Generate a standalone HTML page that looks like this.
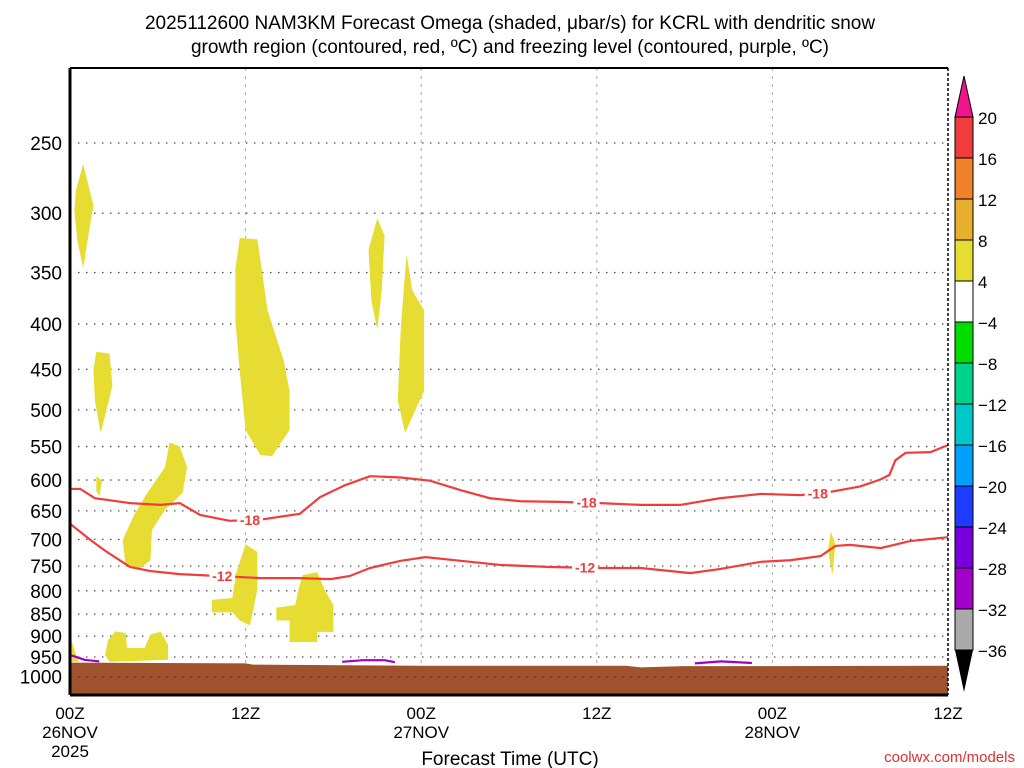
<!DOCTYPE html>
<html><head><meta charset="utf-8"><style>
body{margin:0;background:#fff;width:1024px;height:768px;overflow:hidden}
svg{display:block;font-family:"Liberation Sans",sans-serif}
</style></head><body>
<svg id="chart" width="1024" height="768" xmlns="http://www.w3.org/2000/svg">
<text x="510" y="29" text-anchor="middle" font-size="19">2025112600 NAM3KM Forecast Omega (shaded, μbar/s) for KCRL with dendritic snow</text>
<text x="510" y="53" text-anchor="middle" font-size="19">growth region (contoured, red, ºC) and freezing level (contoured, purple, ºC)</text>
<g id="grid"></g><g id="marks"></g><g id="axes"></g><g id="cbar"></g>
<text x="510" y="765" text-anchor="middle" font-size="19">Forecast Time (UTC)</text>
<text x="1015" y="762" text-anchor="end" font-size="15" fill="#e03030">coolwx.com/models</text>
</svg>
<script>
const pTicks=[250,300,350,400,450,500,550,600,650,700,750,800,850,900,950,1000];
const hourTicks=[0,12,24,36,48,60];
const hourLabels=[["00Z","26NOV","2025"],["12Z"],["00Z","27NOV"],["12Z"],["00Z","28NOV"],["12Z"]];
const minus18Hours=[0,0.7,1.7,4.1,6.2,7.5,8.9,10.9,13.0,15.7,17.1,18.8,20.5,22.6,24.6,26.7,28.7,30.8,33.5,36.2,39.0,41.7,44.4,47.2,49.9,51.9,54.0,55.4,56.0,56.4,57.1,58.8,60];
const minus18Press=[614,614,629,637,640,637,657,667,665,655,627,608,594,596,601,616,629,634,635,637,640,640,629,622,624,619,610,599,592,570,559,558,548];
const minus12Hours=[0,1.4,2.4,4.1,5.5,7.5,10.3,13.0,15.7,17.8,19.1,20.5,22.6,24.3,26.7,29.4,32.8,36.2,39.0,42.4,44.4,47.2,49.2,51.3,52.3,53.3,55.4,57.4,60];
const minus12Press=[672,701,721,752,760,766,770,774,774,776,770,754,740,733,740,748,752,754,754,764,756,742,739,731,712,710,716,703,696];
const surfHours=[0,12,12.5,24,38,39,42,60];
const surfPress=[964,966,969,972,972,976,973,972];
const omegaBlobs=[
 [[0.4,283],[0.9,264],[1.6,294],[1.2,322],[0.9,346],[0.5,322],[0.3,298]],
 [[1.8,430],[2.7,432],[2.9,469],[2.5,500],[2.1,531],[1.7,488],[1.6,451]],
 [[1.8,594],[2.2,601],[2.0,626],[1.8,618]],
 [[6.8,544],[7.5,550],[8.0,580],[7.7,620],[6.5,648],[5.6,683],[5.5,739],[4.8,754],[3.8,748],[3.6,701],[4.4,656],[5.3,620],[6.5,580]],
 [[11.6,320],[12.8,321],[13.1,347],[13.5,386],[14.6,440],[15.0,476],[15.0,527],[13.8,564],[13.0,562],[12.0,527],[11.6,452],[11.3,396],[11.3,347]],
 [[21.0,304],[21.5,318],[21.3,367],[21.0,406],[20.6,377],[20.4,330]],
 [[23.0,334],[23.4,367],[24.2,386],[24.2,476],[23.6,500],[22.9,531],[22.4,488],[22.6,406],[22.8,367]],
 [[12.0,709],[12.8,723],[12.8,798],[12.3,875],[11.6,864],[11.1,846],[9.7,846],[9.7,819],[11.1,815],[11.3,768]],
 [[15.9,768],[16.9,762],[17.4,798],[18.0,830],[18.0,890],[16.9,890],[16.9,914],[15.0,914],[15.0,864],[14.1,864],[14.1,836],[15.4,830],[15.6,798]],
 [[3.1,889],[3.8,893],[3.9,928],[5.1,928],[5.5,896],[6.2,890],[6.7,921],[6.7,957],[2.7,962],[2.4,945],[2.6,909]],
 [[0,900],[0.3,933],[0.6,962],[0,962]],
 [[52.0,686],[52.3,709],[52.1,768],[51.8,719]]
];
const freezeSegs=[
 [[0,945],[1,957],[2,961]],
 [[18.6,962],[20,958],[21.5,958],[22.2,963]],
 [[42.7,966],[44.5,961],[46.6,965]]
];
const cbarLevels=[20,16,12,8,4,-4,-8,-12,-16,-20,-24,-28,-32,-36];
const cbarColors=["#f03c3c","#f0822a","#e6af2d","#e6dc32","#ffffff","#00dc00","#00d28c","#00c8c8","#00a0ff","#1e3cff","#7800dc","#a000c8","#aaaaaa"];

const X0=70,X1=948,Y0=68,Y1=695;
const xs=h=>X0+(X1-X0)*h/60;
const ys=p=>143+385*Math.log(p/250);
const NS="http://www.w3.org/2000/svg";
function mk(tag,parent,attrs){const e=document.createElementNS(NS,tag);for(const k in attrs)e.setAttribute(k,attrs[k]);parent.appendChild(e);return e;}
const grid=document.getElementById('grid'),marks=document.getElementById('marks'),axes=document.getElementById('axes'),cb=document.getElementById('cbar');

pTicks.forEach(p=>{const y=ys(p);
 const l=mk('line',grid,{x1:X0,x2:X1,y1:y,y2:y,stroke:'#555','stroke-width':1.3,'stroke-dasharray':'1.5 6.5'});
 
 
 const t=mk('text',axes,{x:X0-8,y:y+7,'text-anchor':'end','font-size':19});t.textContent=p;
 
 
});
hourTicks.forEach((h,i)=>{const x=xs(h);
 if(i>0&&i<hourTicks.length-1){const l=mk('line',grid,{x1:x,x2:x,y1:Y0,y2:Y1,stroke:'#aaa','stroke-width':1,'stroke-dasharray':'3 5'});
 
 }
 hourLabels[i].forEach((s,j)=>{const t=mk('text',axes,{x:x,y:719+j*19,'text-anchor':'middle','font-size':17});t.textContent=s;
 
 });
});

omegaBlobs.forEach(b=>{const pg=mk('polygon',marks,{points:b.map(d=>xs(d[0])+','+ys(d[1])).join(' '),fill:'#e6dc32'});
 
 });

// ground
let gd='M'+xs(surfHours[0])+','+ys(surfPress[0]);
surfHours.forEach((h,i)=>{gd+=' L'+xs(h)+','+ys(surfPress[i]);});
gd+=' L'+X1+','+Y1+' L'+X0+','+Y1+' Z';
const g=mk('path',marks,{d:gd,fill:'#a0522d'});


pTicks.filter(p=>p>=950).forEach(p=>{const y=ys(p);if(p===1000){const l=mk('line',marks,{x1:X0,x2:X1,y1:y,y2:y,stroke:'#333','stroke-width':1.3,'stroke-dasharray':'1.5 6.5'});
 
 }});

function line(hs,ps,color,name){const d=hs.map((h,i)=>(i?'L':'M')+xs(h)+','+ys(ps[i])).join(' ');
 const e=mk('path',marks,{d:d,fill:'none',stroke:color,'stroke-width':2.2});
 
 }
line(minus18Hours,minus18Press,'#f03c3c','contour-minus18');
line(minus12Hours,minus12Press,'#f03c3c','contour-minus12');
freezeSegs.forEach(s=>line(s.map(d=>d[0]),s.map(d=>d[1]),'#a000c8','freezing-level'));

function clabel(h,hsArr,psArr,txt){let i=0;while(i<hsArr.length-2&&hsArr[i+1]<h)i++;
 const f=(h-hsArr[i])/(hsArr[i+1]-hsArr[i]);const p=psArr[i]+f*(psArr[i+1]-psArr[i]);
 const x=xs(h),y=ys(p);
 const r=mk('rect',marks,{x:x-13,y:y-8,width:26,height:16,fill:'#fff'});
 
 
 const t=mk('text',marks,{x:x,y:y+5,'text-anchor':'middle','font-size':14,'font-weight':'bold',fill:'#f03c3c'});t.textContent=txt;
 
 }
clabel(12.3,minus18Hours,minus18Press,'-18');
clabel(35.3,minus18Hours,minus18Press,'-18');
clabel(51.1,minus18Hours,minus18Press,'-18');
clabel(10.4,minus12Hours,minus12Press,'-12');
clabel(35.2,minus12Hours,minus12Press,'-12');

// frame
[[X0,Y0,X1,Y0,'#000',2,''],[X0,Y0,X0,Y1,'#000',3,''],[X0,Y1,X1,Y1,'#000',3,''],[X1,Y0,X1,Y1,'#000',1.5,'3 2']].forEach(a=>{
 const l=mk('line',axes,{x1:a[0],y1:a[1],x2:a[2],y2:a[3],stroke:a[4],'stroke-width':a[5]});if(a[6])l.setAttribute('stroke-dasharray',a[6]);
 
 });

// colorbar
const CX=955,CW=18,CT=117,CS=41;
const tt=mk('polygon',cb,{points:`${CX},${CT} ${CX+CW},${CT} ${CX+CW/2},${CT-41}`,fill:'#f0148c',stroke:'#000','stroke-width':1});


cbarColors.forEach((c,i)=>{const r=mk('rect',cb,{x:CX,y:CT+i*CS,width:CW,height:CS,fill:c,stroke:'#000','stroke-width':1});
 
 });
const bt=mk('polygon',cb,{points:`${CX},${CT+13*CS} ${CX+CW},${CT+13*CS} ${CX+CW/2},${CT+13*CS+42}`,fill:'#000'});


cbarLevels.forEach((v,i)=>{const t=mk('text',cb,{x:978,y:CT+i*CS+7,'font-size':17});t.textContent=v<0?'\u2212'+(-v):v;
 
 });
</script>
</body></html>
